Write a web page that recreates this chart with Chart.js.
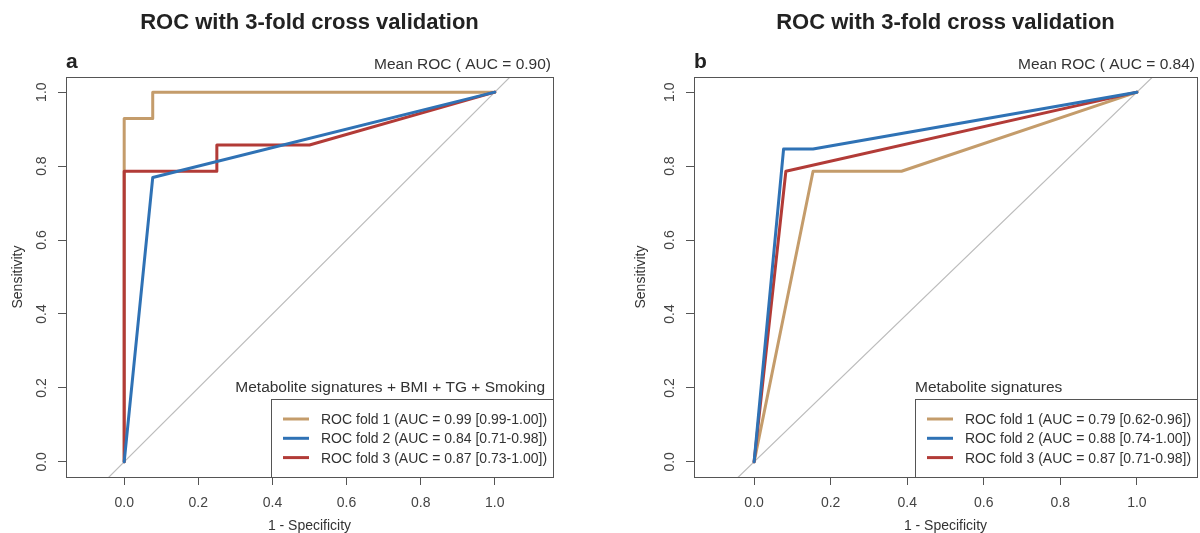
<!DOCTYPE html>
<html>
<head>
<meta charset="utf-8">
<title>ROC 3-fold</title>
<script src="https://cdn.jsdelivr.net/npm/chart.js@4/dist/chart.umd.min.js"></script>
<style>
    body { margin: 0; background: #ffffff; }
    .painel { position: absolute; top: 0; width: 600px; height: 533px; }
</style>
</head>
<body>
<div class="painel" style="left:0px"><canvas id="graficoA"></canvas></div>
<div class="painel" style="left:600px"><canvas id="graficoB"></canvas></div>
<script>
/* dados */
const tituloPainel = 'ROC with 3-fold cross validation';
const rotulosFold = ['ROC fold 1', 'ROC fold 2', 'ROC fold 3'];
const ticksX = [0, 0.2, 0.4, 0.6, 0.8, 1.0];
const ticksY = [0, 0.2, 0.4, 0.6, 0.8, 1.0];
const diagonal = [-0.3, 1.3];

// painel a - Metabolite signatures + BMI + TG + Smoking
const aFold1X = [0, 0, 0.077, 0.077, 1];
const aFold1Y = [0, 0.929, 0.929, 1, 1];
const aFold2X = [0, 0.077, 1];
const aFold2Y = [0, 0.769, 1];
const aFold3X = [0, 0, 0.25, 0.25, 0.5, 1];
const aFold3Y = [0, 0.786, 0.786, 0.857, 0.857, 1];
const aAuc = ['0.99 [0.99-1.00]', '0.84 [0.71-0.98]', '0.87 [0.73-1.00]'];
const aMeanAuc = '0.90';

// painel b - Metabolite signatures
const bFold1X = [0, 0.154, 0.385, 1];
const bFold1Y = [0, 0.786, 0.786, 1];
const bFold2X = [0, 0.077, 0.154, 1];
const bFold2Y = [0, 0.846, 0.846, 1];
const bFold3X = [0, 0.083, 1];
const bFold3Y = [0, 0.786, 1];
const bAuc = ['0.79 [0.62-0.96]', '0.88 [0.74-1.00]', '0.87 [0.71-0.98]'];
const bMeanAuc = '0.84';

const coresFold = ['#c49c6b', '#2f72b5', '#b23b37'];
const fonte = '"Liberation Sans", Arial, sans-serif';

Chart.defaults.font.family = fonte;

function pontos(xs, ys) {
    let lista = [];
    for (let i = 0; i < xs.length; i++) {
        lista.push({ x: xs[i], y: ys[i] });
    }
    return lista;
}

// moldura, letra do painel, Mean ROC e legenda desenhados por cima
const moldura = {
    id: 'moldura',
    afterDraw(chart, args, opts) {
        const a = chart.chartArea;
        const ctx = chart.ctx;
        ctx.save();
        ctx.strokeStyle = '#555555';
        ctx.lineWidth = 1;
        ctx.strokeRect(Math.round(a.left) + 0.5, Math.round(a.top) + 0.5,
            Math.round(a.right - a.left), Math.round(a.bottom - a.top));

        ctx.textBaseline = 'alphabetic';
        ctx.fillStyle = '#222222';
        ctx.font = 'bold 21px ' + fonte;
        ctx.textAlign = 'left';
        ctx.fillText(opts.letra, a.left, a.top - 9);

        ctx.fillStyle = '#333333';
        ctx.font = '15.5px ' + fonte;
        ctx.textAlign = 'right';
        ctx.fillText('Mean ROC ( AUC = ' + opts.meanAuc + ')', a.right - 2, a.top - 8);

        // legenda
        ctx.font = '14px ' + fonte;
        let textos = [];
        let maior = 0;
        chart.data.datasets.forEach(function (ds) {
            if (ds.legenda) {
                textos.push(ds);
                maior = Math.max(maior, ctx.measureText(ds.legenda).width);
            }
        });
        const larg = maior + 56;
        const esq = Math.round(a.right - larg);
        const topo = Math.round(a.bottom - 78);
        ctx.fillStyle = '#ffffff';
        ctx.fillRect(esq, topo, a.right - esq, a.bottom - topo);
        ctx.strokeStyle = '#555555';
        ctx.strokeRect(esq + 0.5, topo + 0.5, a.right - esq, a.bottom - topo);

        textos.sort(function (p, q) { return p.indice - q.indice; });
        textos.forEach(function (ds, i) {
            const cy = topo + 20 + i * 19.3;
            ctx.strokeStyle = ds.borderColor;
            ctx.lineWidth = 3;
            ctx.beginPath();
            ctx.moveTo(esq + 12, cy);
            ctx.lineTo(esq + 38, cy);
            ctx.stroke();
            ctx.fillStyle = '#333333';
            ctx.textAlign = 'left';
            ctx.fillText(ds.legenda, esq + 50, cy + 5);
        });

        ctx.font = '15.5px ' + fonte;
        ctx.fillStyle = '#333333';
        if (opts.alinhaTitulo == 'right') {
            ctx.textAlign = 'right';
            ctx.fillText(opts.tituloLegenda, a.right - 8, a.bottom - 85);
        } else {
            ctx.textAlign = 'left';
            ctx.fillText(opts.tituloLegenda, esq, a.bottom - 85);
        }
        ctx.restore();
    }
};

function plotarROC(idCanvas, p) {
    let dados = {
        datasets: [
            {
                data: pontos(p.f1x, p.f1y), borderColor: coresFold[0], borderWidth: 3,
                legenda: rotulosFold[0] + ' (AUC = ' + p.auc[0] + ')', indice: 0, order: 3
            },
            {
                data: pontos(p.f2x, p.f2y), borderColor: coresFold[1], borderWidth: 3,
                legenda: rotulosFold[1] + ' (AUC = ' + p.auc[1] + ')', indice: 1, order: 1
            },
            {
                data: pontos(p.f3x, p.f3y), borderColor: coresFold[2], borderWidth: 3,
                legenda: rotulosFold[2] + ' (AUC = ' + p.auc[2] + ')', indice: 2, order: 2
            },
            {
                data: pontos(diagonal, diagonal), borderColor: '#bdbdbd', borderWidth: 1.2, order: 4
            }
        ]
    };

    const config = {
        type: 'scatter',
        data: dados,
        options: {
            responsive: true,
            maintainAspectRatio: false,
            animation: false,
            showLine: true,
            elements: {
                point: { radius: 0, hoverRadius: 0 },
                line: { tension: 0, borderJoinStyle: 'round', borderCapStyle: 'round' }
            },
            layout: { padding: { left: p.padEsq, right: p.padDir, top: 0, bottom: 0 } },
            scales: {
                x: {
                    type: 'linear',
                    min: -0.157,
                    max: 1.157,
                    afterBuildTicks: function (s) { s.ticks = ticksX.map(v => ({ value: v })); },
                    afterFit: function (s) { s.height = 56; },
                    ticks: {
                        callback: v => v.toFixed(1),
                        color: '#444444',
                        font: { size: 14 },
                        padding: 10,
                        maxRotation: 0
                    },
                    grid: { drawOnChartArea: false, drawTicks: true, tickLength: 8, color: '#555555' },
                    border: { display: true, color: '#555555' },
                    title: {
                        display: true, text: '1 - Specificity', color: '#333333',
                        font: { size: 14, lineHeight: 1.0 }, padding: { top: 0, bottom: 0 }
                    }
                },
                y: {
                    type: 'linear',
                    min: -0.041,
                    max: 1.041,
                    afterBuildTicks: function (s) { s.ticks = ticksY.map(v => ({ value: v })); },
                    afterFit: function (s) { s.width = p.largY; },
                    ticks: {
                        callback: v => v.toFixed(1),
                        color: '#444444',
                        font: { size: 14 },
                        padding: 6,
                        minRotation: 90,
                        maxRotation: 90,
                        crossAlign: 'center'
                    },
                    grid: { drawOnChartArea: false, drawTicks: true, tickLength: 8, color: '#555555' },
                    border: { display: true, color: '#555555' },
                    title: {
                        display: true, text: 'Sensitivity', color: '#333333',
                        font: { size: 14 }, padding: { top: 10, bottom: 0 }
                    }
                }
            },
            plugins: {
                title: {
                    display: true,
                    text: tituloPainel,
                    color: '#222222',
                    fullSize: false,
                    font: { size: 22, weight: 'bold' },
                    padding: { top: 9.5, bottom: 41.1 }
                },
                legend: { display: false },
                tooltip: { enabled: false },
                moldura: {
                    letra: p.letra,
                    meanAuc: p.meanAuc,
                    tituloLegenda: p.tituloLegenda,
                    alinhaTitulo: p.alinhaTitulo
                }
            }
        },
        plugins: [moldura]
    };

    new Chart(document.getElementById(idCanvas).getContext('2d'), config);
}

plotarROC('graficoA', {
    f1x: aFold1X, f1y: aFold1Y, f2x: aFold2X, f2y: aFold2Y, f3x: aFold3X, f3y: aFold3Y,
    auc: aAuc, meanAuc: aMeanAuc, letra: 'a',
    tituloLegenda: 'Metabolite signatures + BMI + TG + Smoking', alinhaTitulo: 'right',
    padEsq: 0, padDir: 47, largY: 66
});

plotarROC('graficoB', {
    f1x: bFold1X, f1y: bFold1Y, f2x: bFold2X, f2y: bFold2Y, f3x: bFold3X, f3y: bFold3Y,
    auc: bAuc, meanAuc: bMeanAuc, letra: 'b',
    tituloLegenda: 'Metabolite signatures', alinhaTitulo: 'left',
    padEsq: 23, padDir: 3, largY: 71
});
</script>
</body>
</html>
